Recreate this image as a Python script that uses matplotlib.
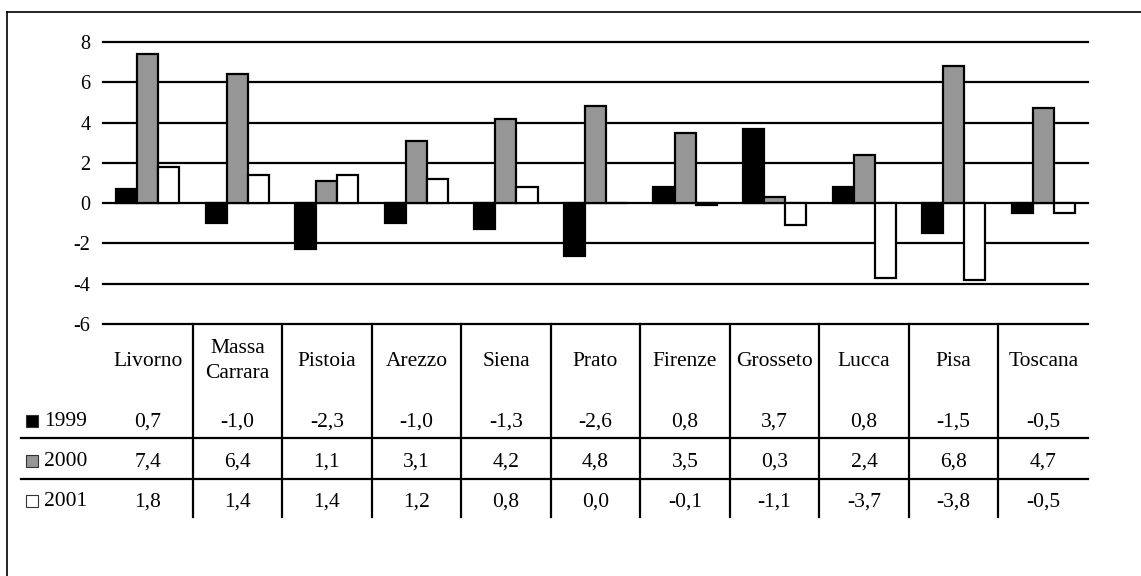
import matplotlib.pyplot as plt
import numpy as np

# Variazione percentuale per provincia
provinces = ['Livorno', 'Massa\nCarrara', 'Pistoia', 'Arezzo', 'Siena', 'Prato',
             'Firenze', 'Grosseto', 'Lucca', 'Pisa', 'Toscana']
years = ['1999', '2000', '2001']
v1999 = [0.7, -1.0, -2.3, -1.0, -1.3, -2.6, 0.8, 3.7, 0.8, -1.5, -0.5]
v2000 = [7.4, 6.4, 1.1, 3.1, 4.2, 4.8, 3.5, 0.3, 2.4, 6.8, 4.7]
v2001 = [1.8, 1.4, 1.4, 1.2, 0.8, 0.0, -0.1, -1.1, -3.7, -3.8, -0.5]
y_ticks = [-6, -4, -2, 0, 2, 4, 6, 8]

series = [v1999, v2000, v2001]
colors = ['black', '#969696', 'white']

plt.rcParams['font.family'] = ['Liberation Serif', 'DejaVu Serif']
FS_TICK = 14.5
FS_TAB = 15.5

W, H = 1141, 576
fig = plt.figure(figsize=(W / 100, H / 100), dpi=100)

# pixel layout helpers
left_px, right_px = 103, 1088
top_px, base_px = 42, 324
table_bottom_px = 517

ax = fig.add_axes([left_px / W, (H - base_px) / H,
                   (right_px - left_px) / W, (base_px - top_px) / H])
n = len(provinces)
x = np.arange(n)
bw = 0.235
for i, (vals, col) in enumerate(zip(series, colors)):
    ax.bar(x + (i - 1) * bw, vals, bw, color=col, edgecolor='black',
           linewidth=1.6, zorder=3)

ax.set_xlim(-0.5, n - 0.5)
ax.set_ylim(-6, 8)
for t in y_ticks:
    ax.axhline(t, color='black', linewidth=1.6, zorder=2, clip_on=False)
ax.set_yticks(y_ticks)
ax.set_yticklabels([str(t) for t in y_ticks], fontsize=FS_TICK)
ax.tick_params(axis='y', length=0, pad=9)
ax.set_xticks([])
for s in ax.spines.values():
    s.set_visible(False)

# data table underneath, y in pixel rows (top = 324)
tax = fig.add_axes([left_px / W, (H - table_bottom_px) / H,
                    (right_px - left_px) / W, (table_bottom_px - base_px) / H])
tax.set_xlim(-0.5, n - 0.5)
tax.set_ylim(table_bottom_px, base_px)
tax.axis('off')

px_per_cat = (right_px - left_px) / n
def px_to_x(px):
    return -0.5 + (px - left_px) / px_per_cat

for k in range(1, n):
    tax.plot([k - 0.5, k - 0.5], [base_px, table_bottom_px], color='black',
             linewidth=1.6, clip_on=False)
for yl in [438, 479]:
    tax.plot([px_to_x(21), n - 0.5], [yl, yl], color='black',
             linewidth=1.6, clip_on=False)

for k, name in enumerate(provinces):
    tax.text(k, 361, name, ha='center', va='center', fontsize=FS_TAB,
             linespacing=1.45)

row_y = [422, 462, 502]
for r, (vals, col, yr) in enumerate(zip(series, colors, years)):
    for k, v in enumerate(vals):
        tax.text(k, row_y[r], f'{v:.1f}'.replace('.', ','), ha='center',
                 va='center', fontsize=FS_TAB)
    # legend key square
    tax.add_patch(plt.Rectangle((px_to_x(26), row_y[r] - 7), 12 / px_per_cat, 12,
                                facecolor=col, edgecolor='#333333',
                                linewidth=0.8, clip_on=False))
    tax.text(px_to_x(44), row_y[r], yr, ha='left', va='center', fontsize=FS_TAB)

# chart frame (top and left edges)
fig.add_artist(plt.Line2D([7 / W, 1], [1 - 12 / H, 1 - 12 / H],
                          color='black', linewidth=1.2))
fig.add_artist(plt.Line2D([7 / W, 7 / W], [1 - 12 / H, 0],
                          color='black', linewidth=1.2))

fig.savefig('out.png', dpi=100)
